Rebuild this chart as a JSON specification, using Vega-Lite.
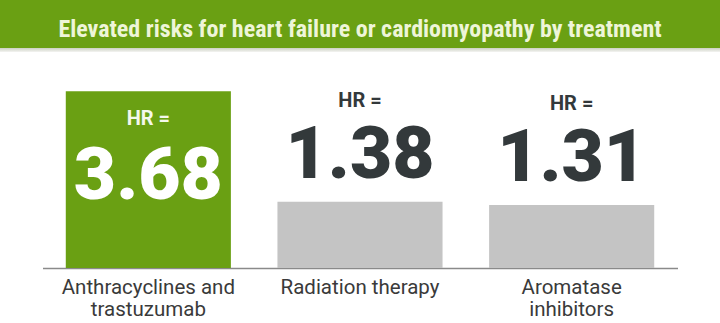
{
  "$schema": "https://vega.github.io/schema/vega-lite/v6.json",
  "padding": 0,
  "background": "white",
  "spacing": 0,
  "center": true,
  "config": {"view": {"stroke": null}},
  "vconcat": [
    {
      "width": 720,
      "height": 52,
      "view": {
        "stroke": null,
        "fill": {
          "gradient": "linear",
          "x1": 0, "y1": 0, "x2": 0, "y2": 1,
          "stops": [
            {"offset": 0, "color": "#6aa013"},
            {"offset": 0.923, "color": "#6aa013"},
            {"offset": 0.93, "color": "#cfd4c6"},
            {"offset": 1, "color": "#f4f4f2"}
          ]
        }
      },
      "data": {"values": [{"title": "Elevated risks for heart failure or cardiomyopathy by treatment"}]},
      "mark": {"type": "text", "font": "Roboto Condensed", "fontWeight": "bold", "fontSize": 24, "color": "#eef5d8", "baseline": "alphabetic", "dy": 11},
      "encoding": {"text": {"field": "title", "type": "nominal"}}
    },
    {
      "width": 635,
      "height": 216,
      "data": {"values": [
        {"treatment": "Anthracyclines and trastuzumab", "hr": 3.68},
        {"treatment": "Radiation therapy", "hr": 1.38},
        {"treatment": "Aromatase inhibitors", "hr": 1.31}
      ]},
      "encoding": {
        "x": {
          "field": "treatment", "type": "nominal", "sort": null,
          "scale": {"paddingInner": 0.22, "paddingOuter": 0.11},
          "axis": {
            "title": null, "labelAngle": 0, "ticks": false,
            "labelFont": "Roboto", "labelFontSize": 20.5, "labelColor": "#3a3a3a",
            "labelPadding": 9, "labelLineHeight": 22,
            "domainColor": "#8a8a8a", "domainWidth": 1.5,
            "labelExpr": "datum.label == 'Anthracyclines and trastuzumab' ? ['Anthracyclines and', 'trastuzumab'] : datum.label == 'Aromatase inhibitors' ? ['Aromatase', 'inhibitors'] : datum.label"
          }
        },
        "y": {"field": "hr", "type": "quantitative", "scale": {"domain": [0, 4.5]}, "axis": null}
      },
      "layer": [
        {
          "mark": {"type": "bar"},
          "encoding": {
            "color": {"condition": {"test": "datum.hr > 2", "value": "#6aa013"}, "value": "#c4c4c4"}
          }
        },
        {
          "transform": [{"filter": "datum.hr > 2"}],
          "mark": {"type": "text", "text": "HR =", "font": "Roboto", "fontWeight": "bold", "fontSize": 20, "color": "#f4f8ec", "baseline": "alphabetic", "dy": 33.5}
        },
        {
          "transform": [{"filter": "datum.hr > 2"}],
          "mark": {"type": "text", "font": "Roboto", "fontWeight": 900, "fontSize": 73, "color": "#ffffff", "baseline": "alphabetic", "dy": 107.5},
          "encoding": {"text": {"field": "hr", "type": "quantitative", "format": ".2f"}}
        },
        {
          "transform": [{"filter": "datum.hr <= 2"}],
          "mark": {"type": "text", "text": "HR =", "font": "Roboto", "fontWeight": "bold", "fontSize": 20, "color": "#33393b", "baseline": "alphabetic", "dy": -95}
        },
        {
          "transform": [{"filter": "datum.hr <= 2"}],
          "mark": {"type": "text", "font": "Roboto", "fontWeight": 900, "fontSize": 73, "color": "#33393b", "baseline": "alphabetic", "dy": -24},
          "encoding": {"text": {"field": "hr", "type": "quantitative", "format": ".2f"}}
        }
      ]
    }
  ]
}
